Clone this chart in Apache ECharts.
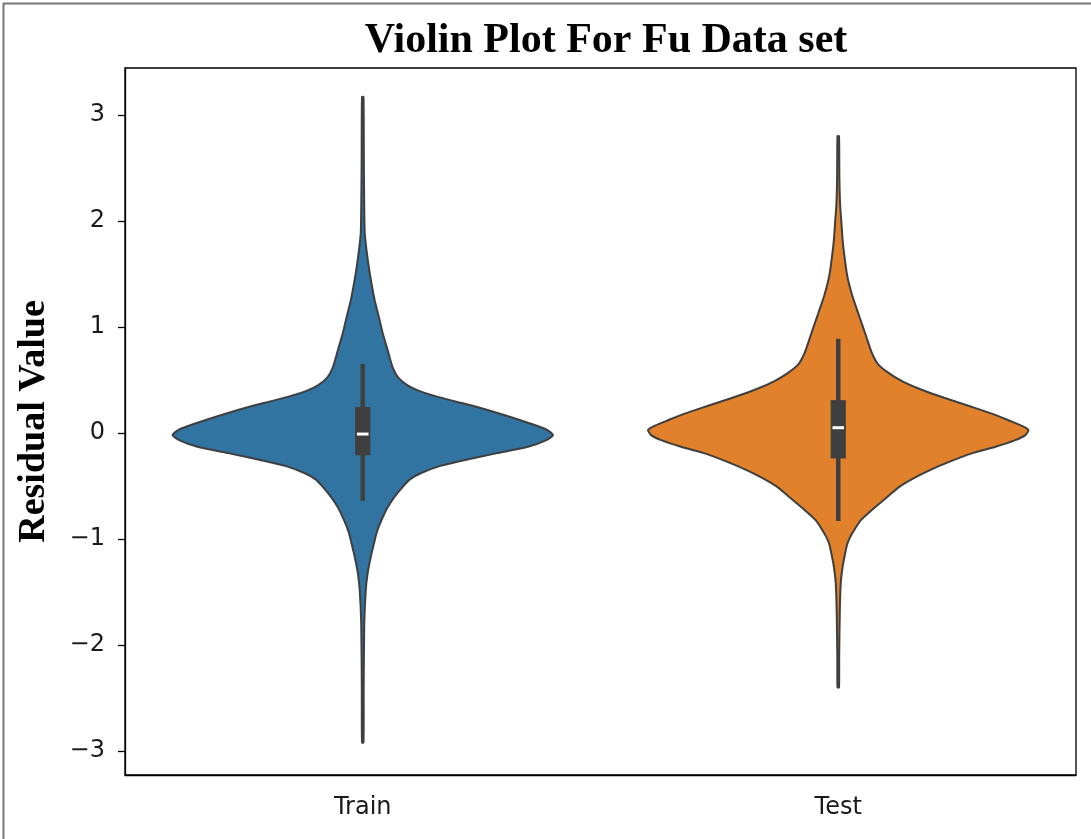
<!DOCTYPE html>
<html>
<head>
<meta charset="utf-8">
<script src="https://cdn.jsdelivr.net/npm/echarts@6/dist/echarts.min.js"></script>
<style>html,body{margin:0;padding:0;background:#fff}#c{width:1091px;height:839px}</style>
</head>
<body>
<div id="c"></div>
<script>
// ---- data ----
const categories = ['Train', 'Test'];
const yTicks = [-3, -2, -1, 0, 1, 2, 3];
// density profile: residual values and normalized half-widths (1 = widest)
const trainY = [3.17, 2.5, 1.9, 1.75, 1.6, 1.45, 1.25, 1.1, 0.94, 0.78, 0.62, 0.52, 0.45, 0.40, 0.35, 0.30, 0.25, 0.17, 0.09, 0.03, -0.02, -0.07, -0.13, -0.19, -0.25, -0.31, -0.38, -0.44, -0.51, -0.60, -0.70, -0.82, -0.94, -1.05, -1.17, -1.32, -1.48, -1.8, -2.4, -2.92];
const trainW = [0.004, 0.006, 0.010, 0.018, 0.029, 0.042, 0.063, 0.084, 0.105, 0.131, 0.157, 0.188, 0.236, 0.293, 0.377, 0.482, 0.592, 0.743, 0.880, 0.969, 1.0, 0.963, 0.869, 0.707, 0.550, 0.408, 0.304, 0.246, 0.209, 0.168, 0.131, 0.099, 0.073, 0.058, 0.042, 0.026, 0.016, 0.008, 0.005, 0.004];
const testY = [2.80, 2.4, 2.15, 2.0, 1.8, 1.54, 1.44, 1.3, 1.13, 0.91, 0.75, 0.65, 0.57, 0.49, 0.41, 0.33, 0.25, 0.18, 0.12, 0.07, 0.03, -0.02, -0.07, -0.13, -0.19, -0.27, -0.35, -0.43, -0.51, -0.59, -0.66, -0.74, -0.82, -0.90, -0.98, -1.05, -1.13, -1.25, -1.42, -1.7, -2.1, -2.40];
const testW = [0.004, 0.006, 0.010, 0.016, 0.024, 0.042, 0.052, 0.073, 0.105, 0.147, 0.178, 0.209, 0.262, 0.335, 0.435, 0.560, 0.696, 0.812, 0.895, 0.963, 1.0, 0.984, 0.927, 0.827, 0.707, 0.586, 0.482, 0.393, 0.319, 0.267, 0.220, 0.168, 0.120, 0.089, 0.063, 0.047, 0.037, 0.024, 0.013, 0.008, 0.005, 0.004];
// box stats: [lowerWhisker, q1, median, q3, upperWhisker]
const trainBox = [-0.64, -0.21, -0.01, 0.245, 0.65];
const testBox = [-0.83, -0.24, 0.05, 0.31, 0.89];

const profiles = [{ys: trainY, ws: trainW, box: trainBox}, {ys: testY, ws: testW, box: testBox}];
const colors = ['#3274a1', '#e1812c'];
const outline = '#3f3f3f';

const chart = echarts.init(document.getElementById('c'), null, {renderer: 'canvas'});

function renderViolin(params, api) {
  const idx = api.value(0);
  const p = profiles[idx];
  const band = api.size([1, 0])[0];
  const half = band * 0.4;
  const right = [], left = [];
  for (let i = 0; i < p.ys.length; i++) {
    const c = api.coord([idx, p.ys[i]]);
    right.push([c[0] + p.ws[i] * half, c[1]]);
    left.push([c[0] - p.ws[i] * half, c[1]]);
  }
  const pts = right.concat(left.reverse());
  const b = p.box.map(v => api.coord([idx, v]));
  const cx = b[0][0];
  const bw = band * 0.032;
  return {
    type: 'group',
    children: [
      {type: 'polygon', shape: {points: pts, smooth: 0.2}, style: {fill: colors[idx], stroke: outline, lineWidth: 2, lineJoin: 'round'}},
      {type: 'line', shape: {x1: cx, y1: b[0][1], x2: cx, y2: b[4][1]}, style: {stroke: outline, lineWidth: 4.5}},
      {type: 'rect', shape: {x: cx - bw / 2, y: b[3][1], width: bw, height: b[1][1] - b[3][1]}, style: {fill: outline}},
      {type: 'line', shape: {x1: cx - bw * 0.38, y1: b[2][1], x2: cx + bw * 0.38, y2: b[2][1]}, style: {stroke: '#fff', lineWidth: 3}}
    ]
  };
}

const fmt = v => (v < 0 ? '\u2212' + Math.abs(v) : String(v));

chart.setOption({
  animation: false,
  backgroundColor: '#fff',
  title: {
    text: 'Violin Plot For Fu Data set',
    left: 601, top: 15, textAlign: 'center',
    textStyle: {fontFamily: 'Liberation Serif', fontWeight: 'bold', fontSize: 42, color: '#000'}
  },
  grid: {left: 125, right: 15, top: 68, bottom: 64, show: true, borderColor: '#000', borderWidth: 1.3, backgroundColor: 'transparent'},
  xAxis: {
    type: 'category', data: categories, boundaryGap: true,
    axisLine: {onZero: false, lineStyle: {color: '#000', width: 1.3}},
    axisTick: {alignWithLabel: true, length: 7, lineStyle: {color: '#000', width: 1.3}},
    axisLabel: {fontFamily: 'DejaVu Sans', fontSize: 24, color: '#1a1a1a', margin: 21},
    splitLine: {show: false}
  },
  yAxis: {
    type: 'value', min: -3.226, max: 3.443,
    name: 'Residual Value', nameLocation: 'middle', nameGap: 72, nameRotate: 90,
    nameTextStyle: {fontFamily: 'Liberation Serif', fontWeight: 'bold', fontSize: 38, color: '#000'},
    axisLine: {show: true, onZero: false, lineStyle: {color: '#000', width: 1.3}},
    axisTick: {show: true, customValues: yTicks, length: 7, lineStyle: {color: '#000', width: 1.3}},
    axisLabel: {customValues: yTicks, formatter: fmt, fontFamily: 'DejaVu Sans', fontSize: 24, color: '#1a1a1a', margin: 20},
    splitLine: {show: false}
  },
  graphic: [
    {type: 'line', shape: {x1: 3, y1: 3.5, x2: 1091, y2: 3.5}, style: {stroke: '#777', lineWidth: 2}},
    {type: 'line', shape: {x1: 3.5, y1: 3, x2: 3.5, y2: 839}, style: {stroke: '#777', lineWidth: 2}}
  ],
  series: [{
    type: 'custom',
    renderItem: renderViolin,
    data: [[0], [1]],
    encode: {x: 0},
    clip: false
  }]
});
</script>
</body>
</html>
